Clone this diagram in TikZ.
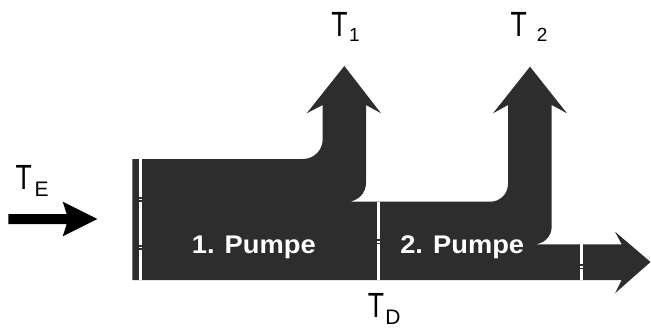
\documentclass[tikz,border=0pt]{standalone}
\usepackage{fontspec}
\setmainfont{Liberation Sans}
\usepackage{graphicx}
\definecolor{band}{HTML}{2D2D2D}
\newcommand\Tlbl[4]{\scalebox{0.76}[1]{\fontsize{35}{35}\selectfont T}\hspace{#2pt}\raisebox{-#3pt}{\fontsize{#4}{#4}\selectfont #1}}
\begin{document}
\begin{tikzpicture}[x=1pt,y=-1pt,
  bandfill/.style={fill=band},
  sepline/.style={draw=white, line width=3pt},
  lab/.style={anchor=base west, inner sep=0pt, text=black},
  pumptext/.style={anchor=base, inner sep=0pt, text=white, font=\bfseries\fontsize{25.5}{30}\selectfont, xscale=1.07}]
\useasboundingbox (0,0) rectangle (651,329);

% band 1 (inflow, first pump, branch T1)
\path[bandfill] (132.3,280) -- (132.3,159) -- (303,159)
  .. controls (313.9,159) and (322.7,150.2) .. (322.7,139.3)
  -- (322.7,105) -- (306.7,113.3) -- (344.35,66) -- (381,113.3) -- (366,105)
  -- (366,183) .. controls (366,193.3) and (357.6,201.7) .. (347.3,201.7)
  -- (378,201.7) -- (378,280) -- cycle;

% band 2 (second pump, branch T2, outflow)
\path[bandfill] (378,280) -- (378,201.7) -- (490.3,201.7)
  .. controls (500.1,201.7) and (508,193.8) .. (508,184)
  -- (508,105) -- (493,113.3) -- (530,66.7) -- (567,113.3) -- (551.7,105)
  -- (551.7,226.6) .. controls (551.7,236.3) and (543.8,244.3) .. (534,244.3)
  -- (621.7,244.3) -- (615,231.7) -- (650.5,262) -- (615,293.3) -- (621.7,280) -- cycle;

% white separator lines
\coordinate (s1a) at (140,159);  \coordinate (s1b) at (140,280);
\coordinate (s2a) at (378,201.7); \coordinate (s2b) at (378,280);
\coordinate (s3a) at (581,244.3); \coordinate (s3b) at (581,280);
\draw[sepline, dash pattern=on 37.7pt off 1.8pt on 1.6pt off 1.8pt on 42.8pt off 1.8pt on 1.6pt off 1.8pt on 40pt] (s1a) -- (s1b);
\draw[sepline, dash pattern=on 37.4pt off 1.8pt on 1.6pt off 1.8pt on 40pt] (s2a) -- (s2b);
\draw[sepline, dash pattern=on 19.8pt off 1.8pt on 1.6pt off 1.8pt on 20pt] (s3a) -- (s3b);

% input arrow
\fill[black] (8.3,214) -- (66.7,214) -- (62.7,201.7) -- (97.3,219) -- (62.7,236.3) -- (66.7,224) -- (8.3,224) -- cycle;

% labels
\node[lab] (tE) at (15.4,189.3) {\Tlbl{E}{2.7}{7.4}{21}};
\node[lab] (t1) at (331.1,36.7) {\Tlbl{1}{1.6}{5}{19}};
\node[lab] (t2) at (510.4,36.7) {\Tlbl{2}{10}{5.3}{19}};
\node[lab] (tD) at (367.7,317) {\Tlbl{D}{1.1}{7.3}{21}};

\node[pumptext] (p1) at (253.8,253.3) {1. Pumpe};
\node[pumptext] (p2) at (462.2,253.3) {2. Pumpe};
\end{tikzpicture}
\end{document}
